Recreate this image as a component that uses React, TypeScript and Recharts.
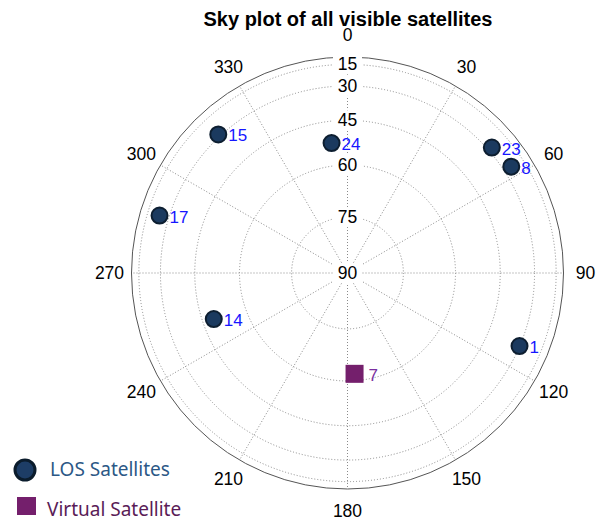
import { RadarChart, Radar, PolarGrid, PolarAngleAxis, PolarRadiusAxis } from "recharts"

// satellites (azimuth deg, elevation deg)
const losPrn = [15, 24, 23, 8, 17, 14, 1]
const losAzimuth = [317, 353, 49, 57, 287, 251, 113]
const losElevation = [28.7, 52.7, 27.7, 25.3, 24.5, 49.1, 30.1]

const virtualPrn = [7]
const virtualAzimuth = [176]
const virtualElevation = [62.1]

const azimuthTicks = [0, 30, 60, 90, 120, 150, 180, 210, 240, 270, 300, 330]
const elevationTicks = [90, 75, 60, 45, 30, 15]

const rad = (deg: number) => (deg * Math.PI) / 180
// sky plot projection: distance from centre = cos(elevation)
const toRho = (el: number) => Math.cos(rad(el))
const toElevation = (rho: number) => Math.round((Math.acos(Math.min(1, Math.max(0, rho))) * 180) / Math.PI)

const satellites = [
  ...losPrn.map((prn, i) => ({ prn, kind: "los", az: losAzimuth[i], rho: toRho(losElevation[i]) })),
  ...virtualPrn.map((prn, i) => ({ prn, kind: "virtual", az: virtualAzimuth[i], rho: toRho(virtualElevation[i]) })),
]

const tickFont = "'Liberation Sans', Arial, sans-serif"
const legendFont = "'Noto Sans', sans-serif"

function AzimuthTick(props: any) {
  const { x, y, payload } = props
  if (payload.value >= 360) return <g />
  return (
    <text x={x} y={y} textAnchor="middle" dominantBaseline="central" fontSize={17.5} fontFamily={tickFont} fill="#000">
      {payload.value}
    </text>
  )
}

function ElevationTick(props: any) {
  const { x, y, payload } = props
  const label = String(toElevation(payload.value))
  const w = label.length * 9.5 + 10
  return (
    <g>
      <rect x={x - w / 2} y={y - 10} width={w} height={20} fill="#fff" />
      <text x={x} y={y} textAnchor="middle" dominantBaseline="central" fontSize={17.5} fontFamily={tickFont} fill="#000">
        {label}
      </text>
    </g>
  )
}

function SatelliteDot(props: any) {
  const { cx, cy } = props
  const sat = props.payload?.payload ?? props.payload
  if (!sat || cx == null || isNaN(cx)) return <g />
  if (sat.kind === "virtual") {
    return (
      <g>
        <rect x={cx - 9} y={cy - 9} width={18} height={18} fill="#741f6c" />
        <text x={cx + 14} y={cy + 7} fontSize={17} fontFamily={tickFont} fill="#7a2fa0">
          {sat.prn}
        </text>
      </g>
    )
  }
  return (
    <g>
      <circle cx={cx} cy={cy} r={8} fill="#1b3a5f" stroke="#0d1e30" strokeWidth={2} />
      <text x={cx + 10} y={cy + 7} fontSize={17} fontFamily={tickFont} fill="#1616ff">
        {sat.prn}
      </text>
    </g>
  )
}

export default function App() {
  return (
    <div style={{ position: "relative", width: 589, height: 511 }}>
      <RadarChart
        width={589}
        height={511}
        data={satellites}
        cx={339.5}
        cy={265}
        outerRadius={216}
        margin={{ top: 0, right: 0, bottom: 0, left: 0 }}
      >
        <PolarGrid gridType="circle" stroke="#8a8a8a" strokeDasharray="1 2" />
        <PolarAngleAxis
          dataKey="az"
          type="number"
          domain={[0, 360]}
          ticks={azimuthTicks}
          tickSize={22}
          tickLine={false}
          axisLineType="circle"
          axisLine={{ stroke: "#555", strokeWidth: 1 }}
          tick={AzimuthTick}
        />
        <PolarRadiusAxis
          angle={90}
          type="number"
          domain={[0, 1]}
          ticks={elevationTicks.map(toRho)}
          axisLine={false}
          tick={ElevationTick}
        />
        <Radar
          dataKey="rho"
          stroke="none"
          fill="none"
          fillOpacity={0}
          dot={SatelliteDot}
          isAnimationActive={false}
        />
      </RadarChart>
      <svg
        width={605}
        height={519}
        style={{ position: "absolute", left: -8, top: -8, pointerEvents: "none" }}
      >
        <text
          x={348}
          y={19}
          textAnchor="middle"
          dominantBaseline="central"
          fontSize={20}
          fontWeight="bold"
          fontFamily={tickFont}
          fill="#000"
        >
          Sky plot of all visible satellites
        </text>
        <circle cx={25} cy={470} r={10} fill="#1d3d66" stroke="#0b1c2c" strokeWidth={3} />
        <text x={50} y={469} dominantBaseline="central" fontSize={19} fontFamily={legendFont} fill="#2c5886">
          LOS Satellites
        </text>
        <rect x={17} y={497} width={19} height={18} fill="#741f6c" />
        <text x={47} y={509} dominantBaseline="central" fontSize={19} fontFamily={legendFont} fill="#5a1c57">
          Virtual Satellite
        </text>
      </svg>
    </div>
  )
}
